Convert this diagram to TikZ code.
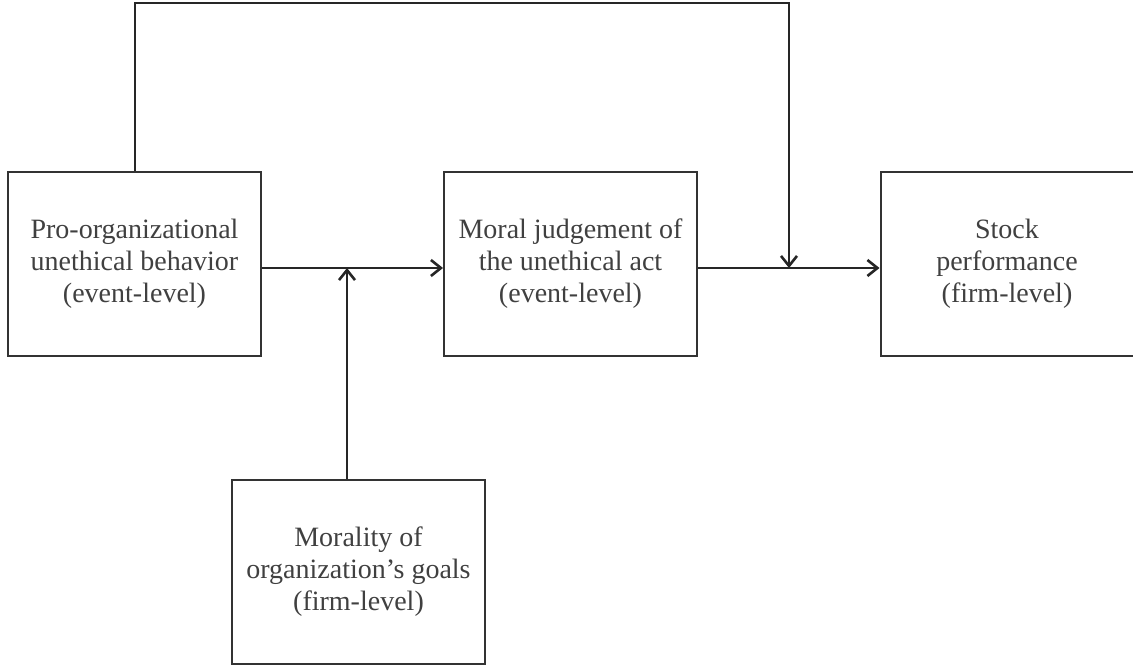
\documentclass[tikz,border=0pt]{standalone}
\usepackage{fontspec}
\setmainfont{Liberation Serif}
\usetikzlibrary{arrows.meta}

\tikzset{
  box/.style={draw=black!80, line width=1pt, rectangle, minimum width=126.5pt,
    minimum height=92pt, align=center, text=black!75,
    font=\fontsize{14}{16}\selectfont},
  arr/.style={draw=black!85, line width=1pt,
    -{Straight Barb[length=5pt,width=8pt,line width=1.3pt]}}
}

\begin{document}
\begin{tikzpicture}[x=0.5pt, y=-0.5pt]
        \useasboundingbox (0,0) rectangle (1133,667);
        % the four boxes
        \node[box] (poub) at (134.5,264) {Pro-organizational\\unethical behavior\\(event-level)};
        \node[box] (judge) at (570.5,264) {Moral judgement of\\the unethical act\\(event-level)};
        \node[box] (stock) at (1007,264) {Stock\\performance\\(firm-level)};
        \node[box] (goals) at (358.5,571.5) {Morality of\\organization's goals\\(firm-level)};
        % junctions
        \coordinate (mod) at (347,268);
        \coordinate (direct) at (789,268);
        \draw[arr] ([yshift=-2pt]poub.east) -- ([yshift=-2pt]judge.west);
        \draw[arr] ([yshift=-2pt]judge.east) -- ([yshift=-2pt]stock.west);
        \draw[arr] (goals.north -| mod) -- (mod);
        \draw[arr] (poub.north) -- ++(0,-168) -| (direct);
    \end{tikzpicture}
\end{document}
